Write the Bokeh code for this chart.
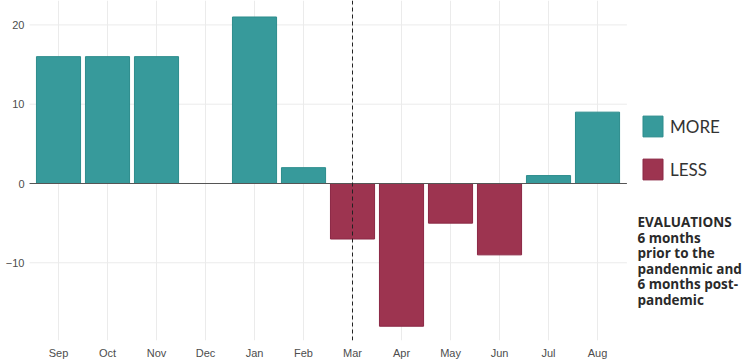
from bokeh.plotting import figure
from bokeh.models import Range1d, FixedTicker, ColumnDataSource, Label
from bokeh.embed import file_html
from bokeh.resources import INLINE

# ---- data ----
months = ["Sep", "Oct", "Nov", "Dec", "Jan", "Feb", "Mar", "Apr", "May", "Jun", "Jul", "Aug"]
values = [16, 16, 16, 0, 21, 2, -7, -18, -5, -9, 1, 9]
y_ticks = [-10, 0, 10, 20]
more_label = "MORE"
less_label = "LESS"
note_text = "EVALUATIONS\n6 months\nprior to the\npandenmic and\n6 months post-\npandemic"
event_month = "Mar"

TEAL = "#379a9b"
TEAL_LINE = "#2c8c8c"
MAROON = "#9d3450"
MAROON_LINE = "#8a2744"

xs = list(range(1, len(months) + 1))
labels = [more_label if v >= 0 else less_label for v in values]
fills = [TEAL if v >= 0 else MAROON for v in values]
lines = [TEAL_LINE if v >= 0 else MAROON_LINE for v in values]
src = ColumnDataSource(dict(x=xs, top=values, label=labels, fill=fills, line=lines))

x0, x1 = 0.408, 15.122
y0, y1 = -19.8, 23.08
panel_l, panel_r = 0.4, len(months) + 0.6

p = figure(width=750, height=361, output_backend="svg", toolbar_location=None,
           x_range=Range1d(x0, x1), y_range=Range1d(y0, y1),
           min_border_left=29, min_border_right=0, min_border_top=0, min_border_bottom=21)
p.outline_line_color = None
p.grid.visible = False

# panel grid lines
p.segment(x0=[panel_l] * len(y_ticks), x1=[panel_r] * len(y_ticks), y0=y_ticks, y1=y_ticks,
          line_color="#ebebeb", line_width=1)
p.segment(x0=xs, x1=xs, y0=[y0] * len(xs), y1=[y1] * len(xs), line_color="#ebebeb", line_width=1)

p.vbar(x="x", top="top", bottom=0, width=0.9, source=src, fill_color="fill",
       line_color="line", line_width=1, legend_field="label")

# zero line
p.segment(x0=[panel_l], x1=[panel_r], y0=[0], y1=[0], line_color="#555555", line_width=1)
# event line
ex = xs[months.index(event_month)]
p.segment(x0=[ex], x1=[ex], y0=[y0], y1=[y1], line_color="#222222", line_width=1, line_dash="4 3")

# axes
p.xaxis.ticker = FixedTicker(ticks=xs)
p.xaxis.major_label_overrides = {x: m for x, m in zip(xs, months)}
p.yaxis.ticker = FixedTicker(ticks=y_ticks)
for ax in (p.xaxis[0], p.yaxis[0]):
    ax.axis_line_color = None
    ax.major_tick_line_color = None
    ax.minor_tick_line_color = None
    ax.major_tick_out = 0
    ax.major_tick_in = 0
    ax.minor_tick_out = 0
    ax.minor_tick_in = 0
    ax.major_label_text_font = "Liberation Sans"
    ax.major_label_text_font_size = "11px"
    ax.major_label_text_color = "#4d4d4d"
p.xaxis.major_label_standoff = 6
p.yaxis.major_label_standoff = 5

# legend
lg = p.legend[0]
lg.location = (611, 158)
lg.border_line_color = None
lg.background_fill_alpha = 0
lg.padding = 0
lg.margin = 0
lg.spacing = 17
lg.glyph_width = 25
lg.glyph_height = 26
lg.label_standoff = 5
lg.label_text_font = "Lato"
lg.label_text_font_size = "17px"
lg.label_text_color = "#333333"

note = Label(x=12.816, y=-3.78, text=note_text, text_font="Open Sans", text_font_style="bold",
             text_font_size="13.5px", text_color="#2a2a2a", text_baseline="top",
             text_align="left", text_line_height=0.86)
p.add_layout(note)

open("out.html", "w").write(file_html(p, INLINE))
